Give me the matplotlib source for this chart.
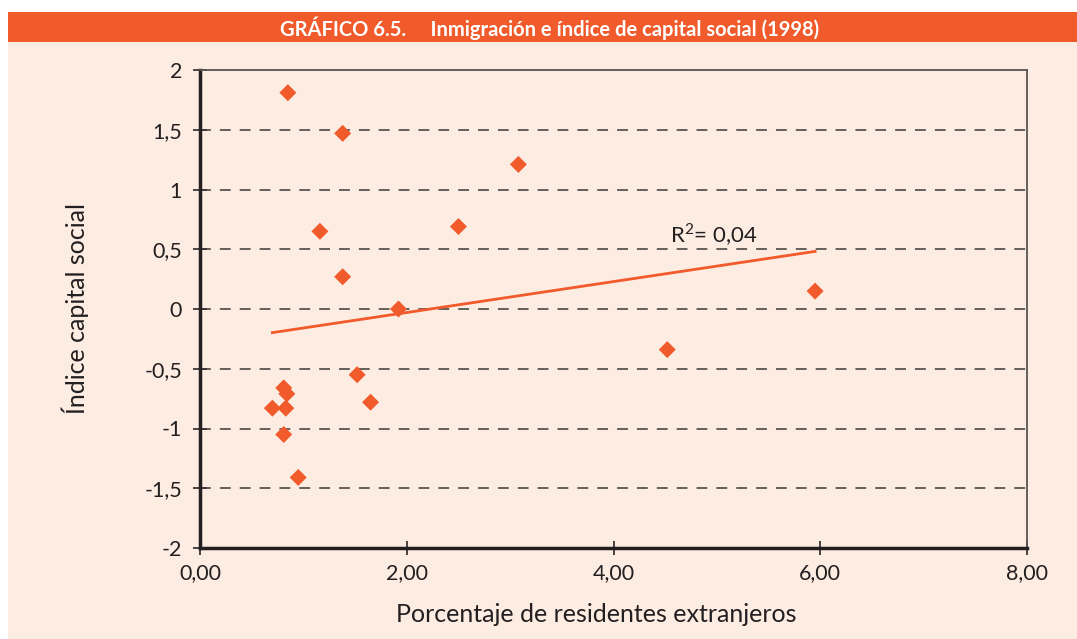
import numpy as np
import matplotlib.pyplot as plt
from matplotlib.patches import Rectangle

plt.rcParams['font.family'] = ['Lato', 'DejaVu Sans']

# data
extranjeros = [0.85, 1.38, 3.08, 1.16, 2.50, 1.38, 1.92, 5.95, 4.52,
               1.52, 1.65, 0.81, 0.84, 0.70, 0.83, 0.81, 0.95]
capital_social = [1.81, 1.47, 1.21, 0.65, 0.69, 0.27, 0.00, 0.15, -0.34,
                  -0.55, -0.78, -0.66, -0.71, -0.83, -0.83, -1.05, -1.41]
x_ticks = [0, 2, 4, 6, 8]
x_ticklabels = ['0,00', '2,00', '4,00', '6,00', '8,00']
y_ticks = [-2, -1.5, -1, -0.5, 0, 0.5, 1, 1.5, 2]
y_ticklabels = ['-2', '-1,5', '-1', '-0,5', '0', '0,5', '1', '1,5', '2']

orange = '#F15A2B'
peach = '#FDECE2'
W, H = 1077, 639

fig = plt.figure(figsize=(W / 100, H / 100), dpi=100)
fig.patch.set_facecolor('white')
# peach panel and title bar
fig.add_artist(Rectangle((8 / W, 0), 1 - 8 / W, 1 - 42 / H, transform=fig.transFigure,
                         facecolor=peach, edgecolor='none', zorder=0))
fig.add_artist(Rectangle((8 / W, 1 - 42 / H), 1 - 8 / W, 30 / H, transform=fig.transFigure,
                         facecolor=orange, edgecolor='none', zorder=0))
fig.text(550 / W, 1 - 28 / H, 'GRÁFICO 6.5.     Inmigración e índice de capital social (1998)',
         ha='center', va='center', color='white', fontsize=14.5, fontweight='bold')

ax = fig.add_axes([200 / W, 1 - 548 / H, 827 / W, 478 / H])
ax.set_facecolor(peach)

ax.scatter(extranjeros, capital_social, marker='D', s=75, color=orange,
           edgecolors='none', zorder=3)

# linear trend
x = np.array(extranjeros)
y = np.array(capital_social)
m, b = np.polyfit(x, y, 1)
xs = np.array([x.min(), x.max()])
ax.plot(xs, m * xs + b, color=orange, lw=2, zorder=2)
ax.text(4.55, 0.62, 'R$^{\\mathregular{2}}$= 0,04', fontsize=16, color='#231F20',
        ha='left', va='center')

ax.set_xlim(0, 8)
ax.set_ylim(-2, 2)
ax.set_xticks(x_ticks)
ax.set_xticklabels(x_ticklabels)
ax.set_yticks(y_ticks)
ax.set_yticklabels(y_ticklabels)

for yv in [-1.5, -1, -0.5, 0, 0.5, 1, 1.5]:
    ax.axhline(yv, color='#5A5553', lw=1.3, ls=(0, (6, 5)), zorder=1)

for s in ['left', 'bottom']:
    ax.spines[s].set_color('#231F20')
    ax.spines[s].set_linewidth(2.5)
for s in ['top', 'right']:
    ax.spines[s].set_color('#5A5553')
    ax.spines[s].set_linewidth(1.3)

ax.tick_params(axis='both', direction='inout', length=10, width=1.3,
               colors='#3A3536', labelsize=15.5, labelcolor='#231F20')
ax.tick_params(axis='y', pad=8)
ax.tick_params(axis='x', pad=6)

ax.set_xlabel('Porcentaje de residentes extranjeros', fontsize=18, color='#231F20', labelpad=12)
ax.xaxis.set_label_coords((596 - 200) / 827, -0.115)
ax.set_ylabel('Índice capital social', fontsize=18, color='#231F20', labelpad=40)

fig.savefig('out.png', dpi=100)
